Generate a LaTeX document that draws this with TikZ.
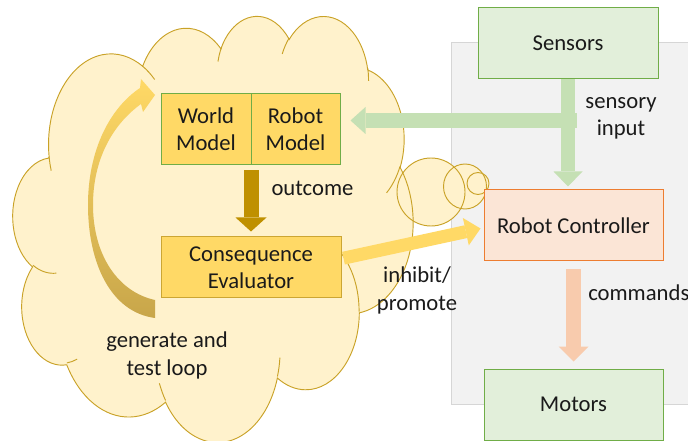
\documentclass[tikz,border=0pt]{standalone}
\usepackage{fontspec}
\setmainfont{Carlito}
\usetikzlibrary{arrows.meta}

\definecolor{cloudfill}{HTML}{FFF2CC}
\definecolor{cloudline}{HTML}{C9A227}
\definecolor{gold}{HTML}{FFD966}
\definecolor{darkgold}{HTML}{BF9000}
\definecolor{tanbrown}{HTML}{C8A64A}
\definecolor{greenfill}{HTML}{E2EFDA}
\definecolor{greenline}{HTML}{70AD47}
\definecolor{greenarrow}{HTML}{C5E0B4}
\definecolor{orangefill}{HTML}{FBE5D6}
\definecolor{orangeline}{HTML}{ED7D31}
\definecolor{salmon}{HTML}{F8CBAD}
\definecolor{panelfill}{HTML}{F2F2F2}
\definecolor{panelline}{HTML}{D6D6D6}
\definecolor{ink}{HTML}{1A1A1A}

% One elliptic arc of the cloud outline; angles are the visual angles
% on the ellipse, turned here into the parametric angles TikZ expects.
\newcommand\setcloudarc[5]{%
  \pgfmathsetmacro\cloudtmpa{atan2((#2)*sin(#4),(#3)*cos(#4))}%
  \pgfmathsetmacro\cloudtmpb{atan2((#2)*sin(#4+#5),(#3)*cos(#4+#5))}%
  \pgfmathsetmacro\cloudtmpb{\cloudtmpb<\cloudtmpa ? \cloudtmpb+360 : \cloudtmpb}%
  \expandafter\xdef\csname cloudS#1\endcsname{\cloudtmpa}%
  \expandafter\xdef\csname cloudE#1\endcsname{\cloudtmpb}%
  \expandafter\xdef\csname cloudW#1\endcsname{#2}%
  \expandafter\xdef\csname cloudH#1\endcsname{#3}%
}
\newcommand\cloudarc[1]{arc[start angle=\csname cloudS#1\endcsname,end angle=\csname cloudE#1\endcsname,x radius=\csname cloudW#1\endcsname,y radius=\csname cloudH#1\endcsname]}

% outline of the cloud
\setcloudarc{a}{67.53}{91.90}{-190.4875}{123.7805}
\setcloudarc{b}{53.33}{72.67}{-144.1024}{89.9452}
\setcloudarc{c}{43.65}{59.45}{-145.8079}{99.7230}
\setcloudarc{d}{48.57}{65.95}{-130.9861}{117.2417}
\setcloudarc{e}{53.33}{72.73}{-78.7089}{109.0269}
\setcloudarc{f}{67.75}{92.20}{-46.2673}{130.2690}
\setcloudarc{g}{57.85}{78.67}{0.6250}{114.0333}
\setcloudarc{h}{67.52}{92.15}{22.4516}{115.1726}
\setcloudarc{i}{77.20}{105.43}{66.2426}{75.7110}
\setcloudarc{j}{43.60}{59.18}{-274.9421}{146.7356}
\setcloudarc{k}{43.45}{59.45}{-246.8285}{152.5189}
% short creases inside the cloud
\setcloudarc{A}{43.45}{59.45}{86.742}{26.4295}
\setcloudarc{B}{43.60}{59.18}{73.6105}{11.4475}
\setcloudarc{C}{67.52}{92.15}{137.6242}{14.0811}
\setcloudarc{D}{67.52}{92.15}{6.4533}{15.9984}
\setcloudarc{E}{57.85}{78.67}{-70.2924}{70.9174}
\setcloudarc{F}{53.33}{72.73}{30.3180}{27.7515}
\setcloudarc{G}{48.57}{65.95}{-13.7443}{14.8576}
\setcloudarc{H}{48.57}{65.95}{-149.1815}{18.1959}
\setcloudarc{I}{43.65}{59.45}{-163.4943}{17.6881}
\setcloudarc{J}{67.53}{91.90}{-66.7070}{12.3194}
\setcloudarc{K}{67.53}{91.90}{157.6544}{11.8582}

\tikzset{
  txt/.style={font=\fontsize{17}{20.5}\selectfont, text=ink, align=center, inner sep=0pt},
  box/.style={txt, draw, line width=0.75pt, minimum height=53.25pt},
  goldbox/.style={box, fill=gold},
  greenbox/.style={box, fill=greenfill, draw=greenline, minimum width=135pt},
  blockarrow/.style n args={4}{draw=#1, line width=#2,
    -{Triangle[length=#4, width=#3, line width=0pt, fill=#1]}},
}

\begin{document}
\begin{tikzpicture}[x=0.75pt, y=-0.75pt]
\useasboundingbox (0,0) rectangle (688,441);

% grey panel of the robot side
\draw[fill=panelfill, draw=panelline, line width=0.75pt] (451,43) rectangle (700,404);

% thought cloud with its trailing bubbles
\begin{scope}[shift={(13,15)}, x=0.6944pt, y=-0.7396pt]
  \fill[cloudfill] (39.00,143.70) \cloudarc{a} \cloudarc{b} \cloudarc{c} \cloudarc{d}
    \cloudarc{e} \cloudarc{f} \cloudarc{g} \cloudarc{h} \cloudarc{i} \cloudarc{j}
    \cloudarc{k} -- cycle;
\end{scope}
\fill[cloudfill] (431,192) circle[radius=34];
\fill[cloudfill] (465,186.5) ellipse[x radius=21.5, y radius=22.5];
\fill[cloudfill] (478,183.5) circle[radius=11];
\begin{scope}[shift={(13,15)}, x=0.6944pt, y=-0.7396pt, draw=cloudline, line width=0.7pt]
  \draw (39.00,143.70) \cloudarc{a} \cloudarc{b} \cloudarc{c} \cloudarc{d}
    \cloudarc{e} \cloudarc{f} \cloudarc{g} \cloudarc{h} \cloudarc{i} \cloudarc{j}
    \cloudarc{k} -- cycle;
  \draw (46.93,261.77) \cloudarc{A}
        (69.28,348.99) \cloudarc{B}
        (164.78,390.90) \cloudarc{C}
        (288.27,347.51) \cloudarc{D}
        (341.29,229.54) \cloudarc{E}
        (417.98,153.54) \cloudarc{F}
        (383.24,54.26) \cloudarc{G}
        (290.78,39.52) \cloudarc{H}
        (221.41,47.20) \cloudarc{I}
        (140.00,51.92) \cloudarc{J}
        (41.27,157.89) \cloudarc{K};
\end{scope}
\begin{scope}[draw=cloudline, line width=0.7pt]
  \draw (431,192) circle[radius=34];
  \draw (465,186.5) ellipse[x radius=21.5, y radius=22.5];
  \draw (478,183.5) circle[radius=11];
\end{scope}

% curved generate-and-test arrow
\path[top color=gold, middle color=gold, bottom color=tanbrown]
  (155,318) .. controls (110,312) and (88,262) .. (88,205)
  .. controls (88,150) and (110,108) .. (140,88)
  -- (141,79) -- (155,95) -- (143,112) -- (141,104)
  .. controls (112,125) and (93,160) .. (93,205)
  .. controls (93,255) and (118,292) .. (155,300) -- cycle;

% boxes
\node[goldbox, draw=greenline, minimum width=67.5pt] (wm) at (206,129.5) {World\\Model};
\node[goldbox, draw=greenline, minimum width=66.75pt] (rm) at (295.5,129.5) {Robot\\Model};
\node[goldbox, draw=darkgold!80, minimum width=135pt, minimum height=45.75pt] (ce) at (251,267.5) {Consequence\\Evaluator};
\node[greenbox] (sensors) at (568,43.5) {Sensors};
\node[box, fill=orangefill, draw=orangeline, minimum width=134.25pt] (ctrl) at (573.5,225.5) {Robot Controller};
\node[greenbox, minimum width=134.25pt] (motors) at (573.5,404.5) {Motors};

% connectors
\path (sensors.south |- ctrl.north) coordinate (sc);
\coordinate (sj) at (570,120.5);
\path (rm.east |- sj) coordinate (rmin);
\draw[blockarrow={greenarrow}{10.5pt}{21.75pt}{11.25pt}]
  (sensors.south) -- ([yshift=2.25pt]sc);
\draw[blockarrow={greenarrow}{11.25pt}{20.25pt}{11.25pt}]
  ([xshift=5pt]sj) -- ([xshift=7.5pt]rmin);
\draw[blockarrow={darkgold}{11.25pt}{23.25pt}{10.5pt}]
  ([yshift=-3.75pt]ce.north |- wm.south) -- ([yshift=3.75pt]ce.north);
\draw[blockarrow={salmon}{11.25pt}{22.5pt}{11.25pt}]
  ([yshift=-6pt]ctrl.south) -- ([yshift=5.25pt]motors.north);
\draw[blockarrow={gold}{9.75pt}{21pt}{11.25pt}]
  ([xshift=1.5pt, yshift=7pt]ce.east) -- ([xshift=-2.25pt, yshift=-2.25pt]ctrl.west);

% labels
\node[txt] (lout) at (312.5,188) {outcome};
\node[txt] (linh) at (417,290.5) {inhibit/\\promote};
\node[txt] (lgen) at (167,355.5) {generate and\\test loop};
\node[txt] (lsen) at (621,118.5) {sensory\\input};
\node[txt, anchor=west] (lcmd) at (588,293) {commands};
\end{tikzpicture}
\end{document}
